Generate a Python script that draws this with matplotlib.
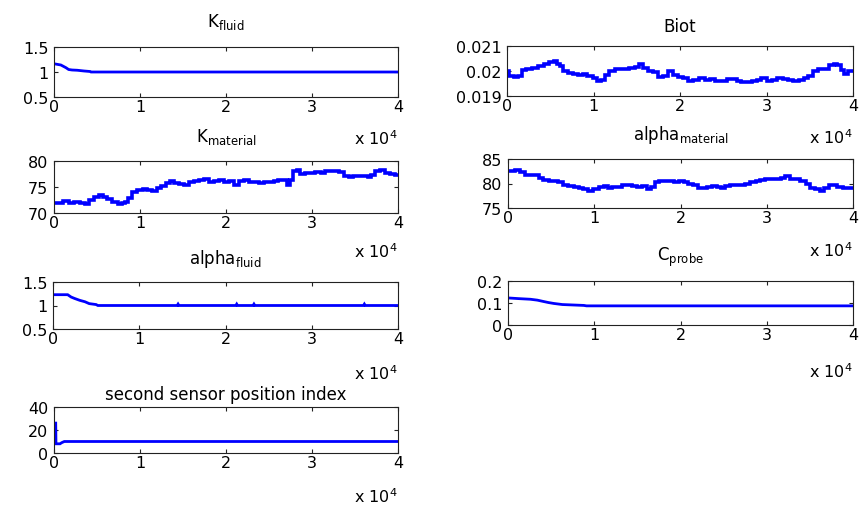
import matplotlib
matplotlib.use('Agg')
import matplotlib.pyplot as plt

plt.rcParams['font.family'] = ['DejaVu Sans']
plt.rcParams['mathtext.fontset'] = 'dejavusans'

# ---------------- data (iteration, value) ----------------
x_ticks = [0, 10000, 20000, 30000, 40000]
x_tick_labels = ['0', '1', '2', '3', '4']

kfluid_it = [0, 800, 1400, 1700, 2100, 2700, 3500, 4200, 4300, 40000]
kfluid_val = [1.165, 1.14, 1.085, 1.05, 1.04, 1.035, 1.02, 1.01, 1.0, 1.0]

biot_it = [0, 500, 1100, 1500, 1900, 2500, 3200, 4000, 4600, 5200, 5600, 5900, 6300,
           6700, 7300, 7900, 8500, 9000, 9600, 10200, 10600, 11200, 11500, 12100,
           12900, 13700, 14500, 15000, 15500, 16000, 16600, 17200, 17700, 18300,
           18900, 19500, 20100, 20600, 21200, 21800, 22600, 23200, 23700, 24500,
           25100, 25700, 26400, 26800, 27400, 28000, 28600, 29100, 29700, 30300,
           30900, 31500, 32200, 32800, 33400, 34000, 34600, 35100, 35700, 36300,
           36900, 37500, 38000, 38400, 38800, 39200, 39600, 40000]
biot_val = [0.01998, 0.019816, 0.019748, 0.019816, 0.020048, 0.020088, 0.020116,
            0.020211, 0.020279, 0.020361, 0.020415, 0.020279, 0.020184, 0.01998,
            0.019912, 0.019871, 0.019844, 0.019871, 0.019816, 0.019708, 0.019599,
            0.01964, 0.019844, 0.020007, 0.020061, 0.020088, 0.020116, 0.020143,
            0.020279, 0.020116, 0.020007, 0.019952, 0.019776, 0.019816, 0.01998,
            0.019844, 0.019776, 0.019708, 0.019612, 0.019653, 0.019708, 0.019653,
            0.01968, 0.019599, 0.019599, 0.019667, 0.01968, 0.019599, 0.019571,
            0.019544, 0.019599, 0.019653, 0.019708, 0.019599, 0.019653, 0.019708,
            0.01968, 0.019626, 0.019599, 0.019653, 0.019735, 0.019816, 0.01998,
            0.020088, 0.020088, 0.020224, 0.020293, 0.020224, 0.020048, 0.019871,
            0.01998, 0.020007]

kmat_it = [0, 700, 1500, 2000, 2600, 3400, 3800, 4400, 5000, 5500, 5900, 6500, 7100,
           7700, 8000, 8400, 8800, 9400, 10000, 10600, 11100, 11700, 12200, 12700,
           13300, 13700, 14200, 14800, 15400, 16000, 16600, 17100, 17700, 18300,
           18900, 19500, 20000, 20600, 21200, 21800, 22400, 22900, 23500, 24100,
           24700, 25300, 25800, 26400, 26900, 27300, 27600, 28000, 28400, 28900,
           29500, 30100, 30700, 31300, 31800, 32400, 32800, 33400, 34000, 34500,
           35100, 35700, 36300, 36700, 37100, 37600, 38200, 38800, 39400, 40000]
kmat_val = [71.83, 71.96, 72.29, 71.83, 72.03, 71.83, 71.70, 72.48, 73.01, 73.40,
            73.01, 72.61, 72.16, 71.70, 71.83, 72.03, 72.81, 74.12, 74.44, 74.64,
            74.44, 74.25, 74.77, 75.23, 75.75, 76.08, 75.75, 75.62, 75.42, 75.88,
            76.14, 76.27, 76.54, 75.88, 76.14, 76.27, 75.88, 76.14, 75.42, 76.08,
            76.27, 75.88, 75.88, 75.75, 75.88, 76.01, 76.14, 76.27, 76.41, 75.42,
            76.41, 78.04, 78.24, 77.58, 77.71, 77.71, 77.84, 77.71, 78.04, 78.04,
            78.17, 77.84, 77.06, 76.93, 77.19, 77.06, 77.19, 76.93, 77.39, 78.04,
            78.24, 77.71, 77.58, 77.39]

amat_it = [0, 500, 1100, 1700, 2300, 2800, 3400, 3800, 4400, 5000, 5600, 6100, 6700,
           7300, 7900, 8500, 9000, 9600, 10200, 10800, 11400, 11700, 12300, 12900,
           13500, 14100, 14600, 15200, 15800, 16400, 16800, 17200, 17700, 18300,
           18900, 19500, 20100, 20600, 21200, 21800, 22200, 22800, 23400, 23900,
           24500, 24900, 25500, 26000, 26600, 27200, 27800, 28400, 29000, 29500,
           30100, 30700, 31300, 31900, 32400, 33000, 33600, 34200, 34800, 35300,
           35900, 36400, 36900, 37500, 38000, 38400, 39200, 40000]
amat_val = [82.50, 82.64, 82.71, 82.36, 81.64, 81.79, 81.64, 81.21, 80.71, 80.50,
            80.50, 80.21, 79.79, 79.50, 79.29, 79.14, 78.79, 78.57, 78.93, 79.29,
            79.50, 79.07, 79.29, 79.29, 79.64, 79.79, 79.50, 79.29, 79.50, 78.79,
            79.29, 80.36, 80.50, 80.57, 80.50, 80.36, 80.50, 80.21, 80.00, 79.64,
            79.07, 79.07, 79.29, 79.50, 79.29, 79.07, 79.50, 79.64, 79.64, 79.79,
            80.00, 80.36, 80.50, 80.71, 80.93, 80.93, 80.93, 81.07, 81.43, 80.93,
            80.93, 80.50, 80.00, 79.07, 78.93, 78.57, 79.07, 79.64, 79.79, 79.29,
            79.07, 79.07]

afluid_it = [0, 1700, 2100, 2500, 3100, 3700, 4200, 5000, 5200, 14400, 14500, 14600,
             21200, 21300, 21400, 23200, 23300, 23400, 36000, 36100, 36200, 40000]
afluid_val = [1.23, 1.23, 1.18, 1.15, 1.11, 1.08, 1.04, 1.02, 1.0, 1.0, 1.03, 1.0,
              1.0, 1.03, 1.0, 1.0, 1.03, 1.0, 1.0, 1.03, 1.0, 1.0]

cprobe_it = [0, 1200, 2600, 3400, 4100, 4700, 5300, 6300, 8800, 9100, 40000]
cprobe_val = [0.123, 0.12, 0.117, 0.113, 0.107, 0.102, 0.098, 0.093, 0.089, 0.087, 0.087]

sensor_it = [0, 200, 230, 700, 900, 1200, 40000]
sensor_val = [26, 26, 8, 8, 9, 10, 10]

# ---------------- figure ----------------
W, H = 860, 506
fig = plt.figure(figsize=(W / 100, H / 100), dpi=100)

FS = 11.5
BLUE = (0, 0, 1)


def px_rect(left, top, right, bottom):
    return [left / W, 1 - bottom / H, (right - left) / W, (bottom - top) / H]


panels = [
    dict(title=r'K$_{\mathregular{fluid}}$', pad_px=21, rect=px_rect(54, 48, 398, 98),
         x=kfluid_it, y=kfluid_val, ylim=(0.5, 1.5), yticks=[0.5, 1, 1.5],
         ylabels=['0.5', '1', '1.5'], lw=2.0, note_px=47, ds='default'),
    dict(title='Biot', pad_px=15, rect=px_rect(507, 47, 853, 97),
         x=biot_it, y=biot_val, ylim=(0.019, 0.021), yticks=[0.019, 0.020, 0.021],
         ylabels=['0.019', '0.02', '0.021'], lw=2.6, note_px=47, ds='steps-mid'),
    dict(title=r'K$_{\mathregular{material}}$', pad_px=20, rect=px_rect(54, 162, 398, 214),
         x=kmat_it, y=kmat_val, ylim=(70, 80), yticks=[70, 75, 80],
         ylabels=['70', '75', '80'], lw=2.6, note_px=44, ds='steps-mid'),
    dict(title=r'alpha$_{\mathregular{material}}$', pad_px=20, rect=px_rect(508, 160, 853, 209),
         x=amat_it, y=amat_val, ylim=(75, 85), yticks=[75, 80, 85],
         ylabels=['75', '80', '85'], lw=2.6, note_px=48, ds='steps-mid'),
    dict(title=r'alpha$_{\mathregular{fluid}}$', pad_px=19, rect=px_rect(53, 283, 398, 330),
         x=afluid_it, y=afluid_val, ylim=(0.5, 1.5), yticks=[0.5, 1, 1.5],
         ylabels=['0.5', '1', '1.5'], lw=2.0, note_px=50, ds='default'),
    dict(title=r'C$_{\mathregular{probe}}$', pad_px=21, rect=px_rect(508, 282, 853, 326),
         x=cprobe_it, y=cprobe_val, ylim=(0, 0.2), yticks=[0, 0.1, 0.2],
         ylabels=['0', '0.1', '0.2'], lw=2.0, note_px=52, ds='default'),
    dict(title='second sensor position index', pad_px=8, rect=px_rect(54, 408, 398, 454),
         x=sensor_it, y=sensor_val, ylim=(0, 40), yticks=[0, 20, 40],
         ylabels=['0', '20', '40'], lw=2.0, note_px=49, ds='default'),
]

for p in panels:
    ax = fig.add_axes(p['rect'])
    ax.plot(p['x'], p['y'], color=BLUE, lw=p['lw'], drawstyle=p['ds'],
            solid_joinstyle='miter')
    ax.set_xlim(0, 40000)
    ax.set_ylim(*p['ylim'])
    ax.set_xticks(x_ticks)
    ax.set_xticklabels(x_tick_labels)
    ax.set_yticks(p['yticks'])
    ax.set_yticklabels(p['ylabels'])
    ax.tick_params(direction='in', top=True, right=True, length=3, width=0.8,
                   labelsize=FS, colors='#222222', labelcolor='black')
    ax.tick_params(axis='x', pad=1.5)
    ax.tick_params(axis='y', pad=4)
    for s in ax.spines.values():
        s.set_linewidth(0.8)
        s.set_color('#222222')
    ax.set_title(p['title'], fontsize=FS + 0.5, pad=p['pad_px'] * 0.72)
    ax.annotate(r'x $\mathregular{10^{4}}$', xy=(1, 0), xycoords='axes fraction',
                xytext=(0, -p['note_px'] * 0.72), textcoords='offset points',
                ha='right', va='baseline', fontsize=FS)

fig.savefig('out.png', dpi=100, facecolor='white')
